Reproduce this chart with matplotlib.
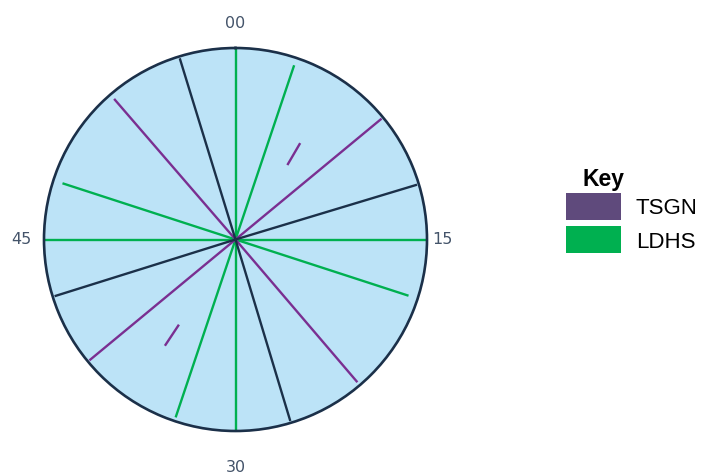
import numpy as np
import matplotlib
matplotlib.use("Agg")
import matplotlib.pyplot as plt
from matplotlib.patches import Rectangle

# clock-face minutes for each line, and how far out it goes (1 = rim)
green_min = [0, 3.1, 15, 18.0, 30, 33.1, 45, 48.0]
green_len = [1.0, 0.96, 1.0, 0.95, 1.0, 0.98, 1.0, 0.95]
purple_min = [8.4, 23.25, 38.4, 53.2]
purple_len = [0.99, 0.98, 0.99, 0.97]
navy_min = [12.2, 27.2, 42.1, 57.15]
navy_len = [0.99, 0.99, 0.99, 0.99]

# short purple marks: (minute, r start) -> (minute, r end)
mark_start = [(5.8, 0.48), (35.6, 0.54)]
mark_end = [(5.65, 0.60), (35.6, 0.66)]

hour_labels = ["00", "15", "30", "45"]
hour_minutes = [0, 15, 30, 45]
label_r = [1.13, 1.08, 1.19, 1.12]

legend_names = ["TSGN", "LDHS"]
legend_colors = ["#5f4a7c", "#00b050"]

GREEN = "#00b050"
PURPLE = "#7a2f91"
NAVY = "#1b3049"


def ang(m):
    return np.asarray(m) / 60.0 * 2 * np.pi


W, H = 702, 476
fig = plt.figure(figsize=(W / 100, H / 100), dpi=100)
ax = fig.add_axes([44 / W, 45 / H, 383 / W, 383 / H], projection="polar")
ax.set_theta_zero_location("N")
ax.set_theta_direction(-1)
ax.set_ylim(0, 1)
ax.set_facecolor("#bce3f7")
ax.grid(False)
ax.set_xticks([])
ax.set_yticks([])
ax.spines["polar"].set_color(NAVY)
ax.spines["polar"].set_linewidth(1.9)

for mins, lens, col in [(green_min, green_len, GREEN),
                        (purple_min, purple_len, PURPLE),
                        (navy_min, navy_len, NAVY)]:
    for m, r in zip(mins, lens):
        ax.plot([ang(m), ang(m)], [0, r], color=col, lw=1.7, solid_capstyle="butt")

for (m0, r0), (m1, r1) in zip(mark_start, mark_end):
    ax.plot([ang(m0), ang(m1)], [r0, r1], color=PURPLE, lw=1.7)

for lab, m, r in zip(hour_labels, hour_minutes, label_r):
    ax.text(ang(m), r, lab, ha="center", va="center", fontsize=11.5,
            color="#44546a", clip_on=False)

# key, drawn in pixel units of the figure
fig.text(583 / W, 1 - 186 / H, "Key", fontsize=16.5, fontweight="bold",
         family="Liberation Sans", ha="left", va="baseline")
for i, (name, col) in enumerate(zip(legend_names, legend_colors)):
    top = 193 + i * 33
    fig.patches.append(Rectangle((566 / W, 1 - (top + 27) / H), 55 / W, 27 / H,
                                 transform=fig.transFigure, facecolor=col,
                                 edgecolor="none"))
    fig.text(636 / W, 1 - (top + 13.5) / H, name, fontsize=16,
             family="Liberation Sans", ha="left", va="center_baseline")

fig.savefig("out.png", dpi=100)
